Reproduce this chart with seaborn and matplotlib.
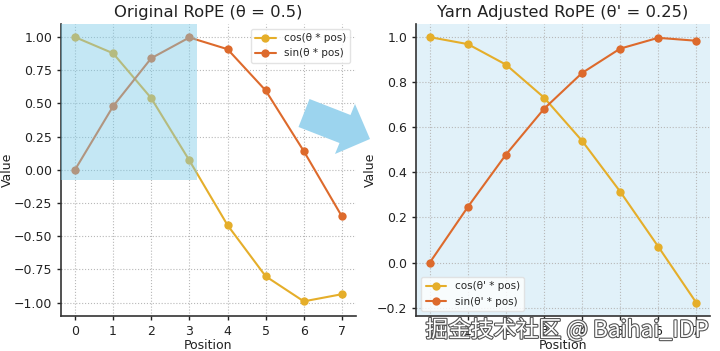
import numpy as np
import pandas as pd
import matplotlib
matplotlib.use("Agg")
import matplotlib.pyplot as plt
import matplotlib.patheffects as pe
from matplotlib.patches import Rectangle, Polygon
import seaborn as sns

positions = [0, 1, 2, 3, 4, 5, 6, 7]
orig_cos = [1.000, 0.878, 0.540, 0.071, -0.416, -0.801, -0.990, -0.936]
orig_sin = [0.000, 0.479, 0.841, 0.997, 0.909, 0.598, 0.141, -0.351]
yarn_cos = [1.000, 0.969, 0.878, 0.732, 0.540, 0.315, 0.071, -0.178]
yarn_sin = [0.000, 0.247, 0.479, 0.682, 0.841, 0.949, 0.997, 0.984]

left_labels = ["cos(θ * pos)", "sin(θ * pos)"]
right_labels = ["cos(θ' * pos)", "sin(θ' * pos)"]
left_ticks = [-1.00, -0.75, -0.50, -0.25, 0.00, 0.25, 0.50, 0.75, 1.00]
right_ticks = [-0.2, 0.0, 0.2, 0.4, 0.6, 0.8, 1.0]

sns.set_theme(style="white")
plt.rcParams["font.family"] = ["DejaVu Sans"]

COS_C = "#e5ae2a"
SIN_C = "#dd6a2c"

W, H = 720, 351
fig = plt.figure(figsize=(7.2, 3.51), dpi=100)
ax1 = fig.add_axes([0.085, 0.10, 0.409, 0.832])
ax2 = fig.add_axes([0.578, 0.10, 0.408, 0.832])

def make_df(c, s, labels):
    return pd.DataFrame({
        "Position": positions * 2,
        "Value": c + s,
        "Series": [labels[0]] * len(positions) + [labels[1]] * len(positions),
    })

def style_axes(ax):
    ax.grid(True, linestyle=":", color="#b8b8b8", linewidth=0.8)
    for side in ["top", "right"]:
        ax.spines[side].set_visible(False)
    for side in ["left", "bottom"]:
        ax.spines[side].set_color("#333333")
        ax.spines[side].set_linewidth(1.2)
    ax.tick_params(axis="both", labelsize=9, colors="#222222", length=3,
                   direction="out", left=True, bottom=True, width=1)
    ax.set_xlabel("Position", fontsize=9, color="#222222", labelpad=1)
    ax.set_ylabel("Value", fontsize=9, color="#222222", labelpad=0)

df1 = make_df(orig_cos, orig_sin, left_labels)
sns.lineplot(data=df1, x="Position", y="Value", hue="Series", marker="o",
             palette=[COS_C, SIN_C], ax=ax1, markersize=6, markeredgewidth=0,
             linewidth=1.5, zorder=3)
ax1.set_xticks(positions)
ax1.set_yticks(left_ticks)
ax1.set_xlim(-0.36, 7.36)
ax1.set_ylim(-1.0995, 1.0995)
style_axes(ax1)
ax1.set_title("Original RoPE (θ = 0.5)", fontsize=11.8, color="#222222", pad=5)
ax1.add_patch(Rectangle((-0.36, -0.075), 3.56, 1.2, facecolor="#7ccbe8",
                        alpha=0.45, edgecolor="none", zorder=4))
leg1 = ax1.legend(loc="upper right", fontsize=7.5, frameon=True, title=None)
leg1.get_frame().set_edgecolor("#dddddd")
leg1.set_zorder(6)

df2 = make_df(yarn_cos, yarn_sin, right_labels)
ax2.set_facecolor("#e1f1f9")
sns.lineplot(data=df2, x="Position", y="Value", hue="Series", marker="o",
             palette=[COS_C, SIN_C], ax=ax2, markersize=6, markeredgewidth=0,
             linewidth=1.5, zorder=3)
ax2.set_xticks(positions)
ax2.set_yticks(right_ticks)
ax2.set_xlim(-0.36, 7.36)
style_axes(ax2)
ax2.set_title("Yarn Adjusted RoPE (θ' = 0.25)", fontsize=11.8, color="#222222", pad=5)
leg2 = ax2.legend(loc="lower left", fontsize=7.5, frameon=True, title=None)
leg2.get_frame().set_edgecolor("#dddddd")

# decorative arrow between panels (pixel outline -> figure fraction)
arrow_px = [(309.5, 99), (350.5, 115), (355, 104), (370, 139),
            (335, 154), (339.5, 143), (298.5, 127)]
arrow_fig = [(x / W, 1 - y / H) for x, y in arrow_px]
fig.patches.append(Polygon(arrow_fig, closed=True, transform=fig.transFigure,
                           facecolor="#9cd4ee", edgecolor="none", zorder=10))

fig.text(0.985, 0.06, "掘金技术社区 @ Baihai_IDP", ha="right", va="center",
         fontsize=16.3, color="white",
         family=["Noto Sans CJK SC", "DejaVu Sans"],
         path_effects=[pe.withStroke(linewidth=1.6, foreground="#555555")])

fig.savefig("out.png", dpi=100)
